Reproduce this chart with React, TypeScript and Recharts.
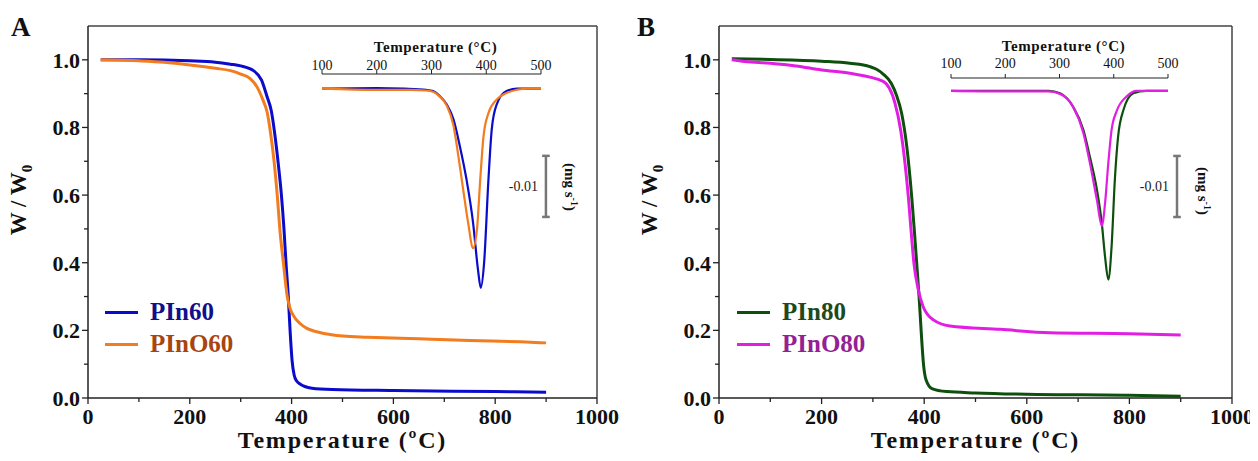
import React from 'react';
import { LineChart, Line, XAxis, YAxis, ReferenceLine, Legend } from 'recharts';

const FONT = '"Liberation Serif", "Times New Roman", serif';
const AXIS = '#222';

// TGA: temperature (°C) and residual mass W/W0
const PIN60_T = [25, 100, 200, 250, 280, 300, 325, 341, 352, 360, 367, 374, 380, 385, 389, 393.5, 397, 401, 405, 410, 418, 426, 440, 480, 600, 800, 900];
const PIN60_W = [1.0, 1.0, 0.997, 0.993, 0.987, 0.982, 0.968, 0.94, 0.89, 0.85, 0.78, 0.69, 0.6, 0.5, 0.4, 0.3, 0.2, 0.11, 0.068, 0.05, 0.04, 0.034, 0.029, 0.025, 0.022, 0.019, 0.017];
const PINO60_T = [25, 100, 150, 200, 250, 280, 300, 318, 332, 344, 352, 359, 366, 372, 377, 384, 391.5, 397, 403, 416, 430, 449, 475, 501, 550, 650, 750, 850, 900];
const PINO60_W = [1.0, 0.997, 0.993, 0.985, 0.975, 0.968, 0.958, 0.945, 0.92, 0.88, 0.845, 0.78, 0.694, 0.596, 0.497, 0.398, 0.3, 0.265, 0.245, 0.221, 0.206, 0.196, 0.188, 0.183, 0.18, 0.175, 0.17, 0.166, 0.163];
const PIN80_T = [25, 100, 200, 255, 294, 307, 320, 336, 346, 356, 366, 375.6, 380.7, 385.4, 390, 394, 398.6, 403.7, 415, 444, 500, 600, 800, 900];
const PIN80_W = [1.003, 1.001, 0.996, 0.99, 0.98, 0.972, 0.958, 0.93, 0.895, 0.842, 0.744, 0.596, 0.497, 0.398, 0.3, 0.2, 0.1, 0.053, 0.028, 0.019, 0.015, 0.011, 0.008, 0.005];
const PINO80_T = [25, 50, 100, 150, 200, 255, 320, 343, 354, 362.6, 369, 374.3, 380, 388.5, 398, 418, 450, 548, 645, 800, 900];
const PINO80_W = [1.0, 0.995, 0.99, 0.982, 0.97, 0.96, 0.936, 0.872, 0.793, 0.694, 0.596, 0.497, 0.398, 0.32, 0.27, 0.231, 0.213, 0.203, 0.193, 0.19, 0.186];

// DTG insets (mg s-1)
const DTG_PIN60_T = [100, 200, 250, 290, 303, 315, 328, 340, 352, 364, 376, 385, 390, 396, 404, 410, 419, 437, 456, 500];
const DTG_PIN60_D = [0, 0.0001, 0, -0.0002, -0.0004, -0.0012, -0.0026, -0.005, -0.0095, -0.0149, -0.022, -0.0297, -0.0326, -0.0286, -0.0149, -0.0067, -0.0026, -0.0004, 0, 0];
const DTG_PINO60_T = [100, 200, 260, 290, 303, 315, 328, 340, 349, 358, 367, 376, 383, 389, 395, 404, 419, 437, 474, 500];
const DTG_PINO60_D = [0, -0.0002, -0.0002, -0.0003, -0.0005, -0.0013, -0.0028, -0.006, -0.011, -0.0166, -0.022, -0.0261, -0.0231, -0.0149, -0.0078, -0.004, -0.0018, -0.0007, 0, 0];
const DTG_PIN80_T = [100, 200, 280, 301, 325, 344, 356, 369, 378, 384, 390, 396, 402, 408, 418, 436, 460, 500];
const DTG_PIN80_D = [0, 0, 0, -0.0004, -0.0026, -0.0064, -0.0108, -0.0162, -0.0217, -0.0272, -0.0309, -0.0255, -0.0146, -0.0075, -0.0031, -0.0004, 0, 0];
const DTG_PINO80_T = [100, 200, 280, 301, 325, 344, 356, 369, 378, 384, 390, 396, 405, 424, 442, 500];
const DTG_PINO80_D = [0, -0.0001, -0.0001, -0.0005, -0.0026, -0.0069, -0.0118, -0.0179, -0.0221, -0.0184, -0.0118, -0.0064, -0.0034, -0.0009, 0, 0];

const X_TICKS = [0, 100, 200, 300, 400, 500, 600, 700, 800, 900, 1000];
const Y_TICKS = [0, 0.1, 0.2, 0.3, 0.4, 0.5, 0.6, 0.7, 0.8, 0.9, 1.0];
const INSET_TICKS = [100, 150, 200, 250, 300, 350, 400, 450, 500];

const toTga = (t: number[], w: number[]) => t.map((x, i) => ({ t: x, w: w[i] }));
const toDtg = (t: number[], d: number[]) => t.map((x, i) => ({ t: x, d: d[i] }));

function MainXTick(props: any) {
  const { x, y, payload } = props;
  const major = payload.value % 200 === 0;
  return (
    <g>
      <line x1={x} x2={x} y1={y} y2={y + (major ? 6 : 4)} stroke={AXIS} strokeWidth={1.3} />
      {major && (
        <text x={x} y={y + 26} textAnchor="middle" fontFamily={FONT} fontWeight="bold" fontSize={22} fill="#111">
          {payload.value}
        </text>
      )}
    </g>
  );
}

function MainYTick(props: any) {
  const { x, y, payload } = props;
  const major = Math.round(payload.value * 10) % 2 === 0;
  return (
    <g>
      <line x1={x} x2={x - (major ? 6 : 4)} y1={y} y2={y} stroke={AXIS} strokeWidth={1.3} />
      {major && (
        <text x={x - 8} y={y + 8} textAnchor="end" fontFamily={FONT} fontWeight="bold" fontSize={22} fill="#111">
          {payload.value.toFixed(1)}
        </text>
      )}
    </g>
  );
}

function LegendBox({ payload, textColors }: any) {
  return (
    <div>
      {(payload || []).map((p: any) => (
        <div key={p.value} style={{ display: 'flex', alignItems: 'center', height: 32 }}>
          <span style={{ width: 33, height: 3, background: p.color, marginRight: 12 }} />
          <span style={{ fontFamily: FONT, fontWeight: 'bold', fontSize: 25, color: textColors[p.value] }}>{p.value}</span>
        </div>
      ))}
    </div>
  );
}

function Inset({ left, top, series, domainY, bar, marginLeft, marginRight, rightW, labelGap, titleDy }: any) {
  const tick = (p: any) => {
    const major = p.payload.value % 100 === 0;
    return (
      <g>
        <line x1={p.x} x2={p.x} y1={p.y} y2={p.y - (major ? 4 : 3)} stroke={AXIS} strokeWidth={1} />
        {major && (
          <text x={p.x} y={p.y - labelGap} textAnchor="middle" fontFamily={FONT} fontSize={14} fill="#111">
            {p.payload.value}
          </text>
        )}
      </g>
    );
  };
  const title = (p: any) => {
    const vb = p.viewBox;
    return (
      <text x={vb.x + vb.width / 2 + 4} y={vb.y + titleDy} textAnchor="middle" fontFamily={FONT} fontWeight="bold" fontSize={15} letterSpacing={0.6} fill="#111">
        Temperature (°C)
      </text>
    );
  };
  const unit = (p: any) => {
    const vb = p.viewBox;
    const cx = vb.x + vb.width - 6;
    const cy = vb.y + vb.height / 2;
    return (
      <text transform={`translate(${cx},${cy}) rotate(90)`} textAnchor="middle" fontFamily={FONT} fontWeight="bold" fontSize={15} fill="#111">
        (mg s<tspan dy={-6} fontSize={10}>-1</tspan><tspan dy={6}>)</tspan>
      </text>
    );
  };
  return (
    <div style={{ position: 'absolute', left, top }}>
      <LineChart width={290} height={290} margin={{ top: 14, right: marginRight, left: marginLeft, bottom: 10 }}>
        <XAxis type="number" dataKey="t" orientation="top" domain={[100, 500]} ticks={INSET_TICKS} height={40}
          tickSize={0} tickMargin={0} tickLine={false} tick={tick} axisLine={{ stroke: AXIS, strokeWidth: 1 }}
          allowDataOverflow label={{ content: title }} />
        <YAxis type="number" orientation="right" domain={domainY} width={rightW} tick={false} axisLine={false}
          tickLine={false} allowDataOverflow label={{ content: unit }} />
        {series.map((s: any) => (
          <Line key={s.name} data={s.data} dataKey="d" type="monotone" stroke={s.color} strokeWidth={2.2}
            dot={false} isAnimationActive={false} />
        ))}
        <ReferenceLine segment={[{ x: bar.t, y: bar.top }, { x: bar.t, y: bar.bottom }]} ifOverflow="visible"
          stroke="#777" strokeWidth={2.5}
          label={{ value: '-0.01', position: 'left', offset: 8, fill: '#222', fontSize: 14, fontFamily: FONT }} />
        <ReferenceLine segment={[{ x: bar.t - 7, y: bar.top }, { x: bar.t + 7, y: bar.top }]} ifOverflow="visible" stroke="#777" strokeWidth={2.5} />
        <ReferenceLine segment={[{ x: bar.t - 7, y: bar.bottom }, { x: bar.t + 7, y: bar.bottom }]} ifOverflow="visible" stroke="#777" strokeWidth={2.5} />
      </LineChart>
    </div>
  );
}

function Panel({ left, width, marginLeft, marginRight, series, textColors, legendPos }: any) {
  const yTitle = (p: any) => {
    const vb = p.viewBox;
    const x = vb.x + vb.width - 62;
    const y = 200;
    return (
      <text transform={`translate(${x},${y}) rotate(-90)`} textAnchor="middle" fontFamily={FONT} fontWeight="bold" fontSize={23} fill="#111">
        W / W<tspan dy={6} fontSize={15}>0</tspan>
      </text>
    );
  };
  const xTitle = (p: any) => {
    const vb = p.viewBox;
    return (
      <text x={vb.x + vb.width / 2} y={vb.y + 50} textAnchor="middle" fontFamily={FONT} fontWeight="bold" fontSize={24} letterSpacing={1.8} fill="#111">
        Temperature (ºC)
      </text>
    );
  };
  return (
    <div style={{ position: 'absolute', left, top: 0 }}>
      <LineChart width={width} height={461} margin={{ top: 26, right: marginRight, left: marginLeft, bottom: 13 }}>
        <XAxis type="number" dataKey="t" domain={[0, 1000]} ticks={X_TICKS} height={50} tickSize={0} tickMargin={0}
          tickLine={false} tick={MainXTick} axisLine={{ stroke: AXIS, strokeWidth: 1.5 }} label={{ content: xTitle }} />
        <YAxis type="number" domain={[0, 1.1]} ticks={Y_TICKS} width={60} tickSize={0} tickMargin={0} tickLine={false}
          tick={MainYTick} axisLine={{ stroke: AXIS, strokeWidth: 1.5 }} allowDataOverflow label={{ content: yTitle }} />
        <ReferenceLine y={1.1} stroke="#444" strokeWidth={1.5} />
        <ReferenceLine x={1000} stroke="#444" strokeWidth={1.5} />
        {series.map((s: any) => (
          <Line key={s.name} name={s.name} data={s.data} dataKey="w" type="monotone" stroke={s.color} strokeWidth={3}
            dot={false} isAnimationActive={false} />
        ))}
        <Legend layout="vertical" align="center" verticalAlign="middle"
          wrapperStyle={{ left: legendPos.left, top: legendPos.top, width: 'auto' }}
          content={(p: any) => <LegendBox payload={p.payload} textColors={textColors} />} />
      </LineChart>
    </div>
  );
}

export default function App() {
  return (
    <div style={{ position: 'relative', width: 1258, height: 461, margin: '-8px 0 -8px -8px', background: '#fff' }}>
      <Panel left={0} width={620} marginLeft={28} marginRight={23}
        series={[
          { name: 'PIn60', data: toTga(PIN60_T, PIN60_W), color: '#0b0bcc' },
          { name: 'PInO60', data: toTga(PINO60_T, PINO60_W), color: '#f27c1e' },
        ]}
        textColors={{ PIn60: '#10108a', PInO60: '#a8450f' }}
        legendPos={{ left: 105, top: 296 }} />
      <Panel left={630} width={628} marginLeft={29} marginRight={26}
        series={[
          { name: 'PIn80', data: toTga(PIN80_T, PIN80_W), color: '#0d4f0d' },
          { name: 'PInO80', data: toTga(PINO80_T, PINO80_W), color: '#e21ee2' },
        ]}
        textColors={{ PIn80: '#1c4a1c', PInO80: '#951f95' }}
        legendPos={{ left: 107, top: 296 }} />
      <Inset left={300} top={20} marginLeft={22} marginRight={19} rightW={30} labelGap={4.5} titleDy={17.5}
        domainY={[-0.0346, 0.0024]} bar={{ t: 509, top: -0.011, bottom: -0.021 }}
        series={[
          { name: 'PIn60', data: toDtg(DTG_PIN60_T, DTG_PIN60_D), color: '#0b0bcc' },
          { name: 'PInO60', data: toDtg(DTG_PINO60_T, DTG_PINO60_D), color: '#f27c1e' },
        ]} />
      <Inset left={930} top={24} marginLeft={21} marginRight={16} rightW={36} labelGap={10} titleDy={12.5}
        domainY={[-0.0349, 0.0021]} bar={{ t: 516.6, top: -0.01066, bottom: -0.02066 }}
        series={[
          { name: 'PIn80', data: toDtg(DTG_PIN80_T, DTG_PIN80_D), color: '#0d4f0d' },
          { name: 'PInO80', data: toDtg(DTG_PINO80_T, DTG_PINO80_D), color: '#e21ee2' },
        ]} />
      <svg width={1258} height={461} style={{ position: 'absolute', left: 0, top: 0, pointerEvents: 'none' }}>
        <text x={11} y={36} fontFamily={FONT} fontWeight="bold" fontSize={27} fill="#111">A</text>
        <text x={637} y={36} fontFamily={FONT} fontWeight="bold" fontSize={27} fill="#111">B</text>
      </svg>
    </div>
  );
}
